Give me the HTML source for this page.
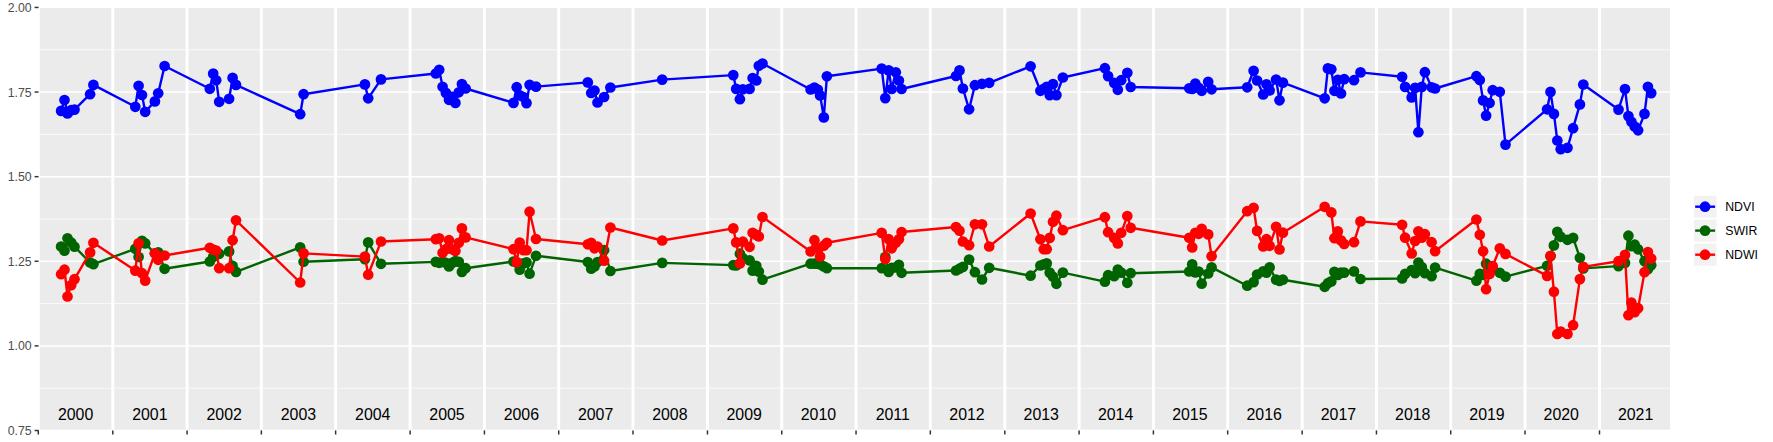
<!DOCTYPE html>
<html><head><meta charset="utf-8"><title>plot</title>
<style>html,body{margin:0;padding:0;background:#fff;}body{width:1773px;height:442px;overflow:hidden;}svg{display:block;}text{font-family:"Liberation Sans",Arial,Helvetica,sans-serif;}</style>
</head><body>
<svg width="1773" height="442" viewBox="0 0 1773 442">
<rect x="0" y="0" width="1773" height="442" fill="#ffffff"/>
<defs><clipPath id="pc"><rect x="39.75" y="8.05" width="1630.25" height="421.60"/></clipPath></defs>
<rect x="39.75" y="8.05" width="1630.25" height="421.60" fill="#EBEBEB"/>
<g clip-path="url(#pc)">
<line x1="39.75" x2="1670.00" y1="388.19" y2="388.19" stroke="#fff" stroke-width="0.74"/>
<line x1="39.75" x2="1670.00" y1="303.59" y2="303.59" stroke="#fff" stroke-width="0.74"/>
<line x1="39.75" x2="1670.00" y1="218.97" y2="218.97" stroke="#fff" stroke-width="0.74"/>
<line x1="39.75" x2="1670.00" y1="134.37" y2="134.37" stroke="#fff" stroke-width="0.74"/>
<line x1="39.75" x2="1670.00" y1="49.75" y2="49.75" stroke="#fff" stroke-width="0.74"/>
<line x1="39.75" x2="1670.00" y1="345.89" y2="345.89" stroke="#fff" stroke-width="1.48"/>
<line x1="39.75" x2="1670.00" y1="261.28" y2="261.28" stroke="#fff" stroke-width="1.48"/>
<line x1="39.75" x2="1670.00" y1="176.67" y2="176.67" stroke="#fff" stroke-width="1.48"/>
<line x1="39.75" x2="1670.00" y1="92.06" y2="92.06" stroke="#fff" stroke-width="1.48"/>
<line x1="38.30" x2="38.30" y1="8.05" y2="429.65" stroke="#fff" stroke-width="2.96"/>
<line x1="112.79" x2="112.79" y1="8.05" y2="429.65" stroke="#fff" stroke-width="2.96"/>
<line x1="187.07" x2="187.07" y1="8.05" y2="429.65" stroke="#fff" stroke-width="2.96"/>
<line x1="261.36" x2="261.36" y1="8.05" y2="429.65" stroke="#fff" stroke-width="2.96"/>
<line x1="335.64" x2="335.64" y1="8.05" y2="429.65" stroke="#fff" stroke-width="2.96"/>
<line x1="410.13" x2="410.13" y1="8.05" y2="429.65" stroke="#fff" stroke-width="2.96"/>
<line x1="484.42" x2="484.42" y1="8.05" y2="429.65" stroke="#fff" stroke-width="2.96"/>
<line x1="558.70" x2="558.70" y1="8.05" y2="429.65" stroke="#fff" stroke-width="2.96"/>
<line x1="632.99" x2="632.99" y1="8.05" y2="429.65" stroke="#fff" stroke-width="2.96"/>
<line x1="707.47" x2="707.47" y1="8.05" y2="429.65" stroke="#fff" stroke-width="2.96"/>
<line x1="781.76" x2="781.76" y1="8.05" y2="429.65" stroke="#fff" stroke-width="2.96"/>
<line x1="856.04" x2="856.04" y1="8.05" y2="429.65" stroke="#fff" stroke-width="2.96"/>
<line x1="930.33" x2="930.33" y1="8.05" y2="429.65" stroke="#fff" stroke-width="2.96"/>
<line x1="1004.82" x2="1004.82" y1="8.05" y2="429.65" stroke="#fff" stroke-width="2.96"/>
<line x1="1079.10" x2="1079.10" y1="8.05" y2="429.65" stroke="#fff" stroke-width="2.96"/>
<line x1="1153.39" x2="1153.39" y1="8.05" y2="429.65" stroke="#fff" stroke-width="2.96"/>
<line x1="1227.67" x2="1227.67" y1="8.05" y2="429.65" stroke="#fff" stroke-width="2.96"/>
<line x1="1302.16" x2="1302.16" y1="8.05" y2="429.65" stroke="#fff" stroke-width="2.96"/>
<line x1="1376.44" x2="1376.44" y1="8.05" y2="429.65" stroke="#fff" stroke-width="2.96"/>
<line x1="1450.73" x2="1450.73" y1="8.05" y2="429.65" stroke="#fff" stroke-width="2.96"/>
<line x1="1525.01" x2="1525.01" y1="8.05" y2="429.65" stroke="#fff" stroke-width="2.96"/>
<line x1="1599.50" x2="1599.50" y1="8.05" y2="429.65" stroke="#fff" stroke-width="2.96"/>
<polyline points="61.1,110.9 64.5,100.0 67.5,113.4 71.2,110.1 74.5,109.6 90.1,94.2 93.4,84.9 135.3,106.8 138.6,85.8 142.0,95.0 145.2,111.8 154.9,101.4 158.2,93.3 164.6,66.0 209.8,88.8 213.2,73.6 216.2,80.3 219.2,101.8 229.1,98.8 232.6,77.9 236.0,84.9 300.2,114.2 303.6,94.2 364.9,84.4 368.2,98.3 381.0,79.4 435.8,73.5 439.2,69.8 442.6,86.8 445.9,92.9 449.0,99.8 452.2,96.8 455.4,102.9 458.8,92.3 461.9,84.1 465.6,88.5 513.5,102.9 516.7,87.2 519.7,95.3 523.4,97.0 526.5,103.1 529.6,84.8 536.0,86.6 587.8,82.4 591.2,93.0 594.5,90.5 597.5,102.5 604.1,97.0 610.4,87.5 662.2,79.6 733.3,75.1 736.2,88.9 739.9,99.2 742.9,89.3 749.6,88.9 752.6,78.0 756.3,80.5 758.8,65.8 762.5,63.5 810.6,89.5 814.4,87.5 817.8,89.5 820.1,95.4 823.8,117.4 826.9,76.3 881.7,68.6 885.3,98.1 888.7,70.4 891.7,89.0 895.8,72.3 898.9,80.5 901.6,89.0 956.0,76.0 959.5,70.4 962.9,88.5 969.1,109.3 974.9,85.2 982.0,83.8 989.2,82.8 1030.6,66.3 1040.4,90.8 1043.8,88.8 1046.7,86.8 1049.7,95.1 1053.0,84.0 1056.4,95.1 1062.9,77.5 1104.9,68.2 1108.1,76.1 1114.2,82.9 1117.8,89.8 1121.2,80.2 1127.3,72.8 1130.7,87.0 1189.2,88.3 1192.2,89.0 1195.3,83.6 1198.7,87.8 1201.7,90.8 1208.2,81.8 1211.6,89.3 1247.2,87.3 1253.6,70.8 1257.1,80.5 1263.2,94.5 1266.5,84.3 1269.6,90.4 1276.1,79.5 1279.5,100.3 1282.9,82.6 1324.7,98.3 1327.9,68.4 1331.3,69.3 1334.4,90.8 1337.8,79.8 1341.0,93.5 1344.2,79.2 1354.0,80.2 1360.5,72.4 1402.1,76.8 1405.1,86.9 1411.7,97.4 1415.1,87.9 1418.4,132.2 1421.8,86.9 1424.9,72.2 1431.6,87.3 1435.1,88.5 1476.4,76.2 1479.8,80.0 1483.1,100.4 1486.1,115.6 1489.6,103.0 1492.7,90.2 1499.8,91.8 1505.5,144.6 1547.1,109.3 1550.5,91.9 1553.9,113.9 1557.3,140.5 1560.7,149.2 1567.5,147.8 1573.1,128.2 1579.9,104.4 1583.3,84.5 1618.5,109.6 1625.0,89.0 1628.4,116.1 1631.4,121.8 1634.7,126.5 1638.1,130.3 1644.5,113.9 1647.9,86.8 1651.2,93.1" fill="none" stroke="#0000FF" stroke-width="2.40" stroke-linejoin="round" stroke-linecap="butt"/>
<g fill="#0000FF"><circle cx="61.1" cy="110.9" r="5.35"/><circle cx="64.5" cy="100.0" r="5.35"/><circle cx="67.5" cy="113.4" r="5.35"/><circle cx="71.2" cy="110.1" r="5.35"/><circle cx="74.5" cy="109.6" r="5.35"/><circle cx="90.1" cy="94.2" r="5.35"/><circle cx="93.4" cy="84.9" r="5.35"/><circle cx="135.3" cy="106.8" r="5.35"/><circle cx="138.6" cy="85.8" r="5.35"/><circle cx="142.0" cy="95.0" r="5.35"/><circle cx="145.2" cy="111.8" r="5.35"/><circle cx="154.9" cy="101.4" r="5.35"/><circle cx="158.2" cy="93.3" r="5.35"/><circle cx="164.6" cy="66.0" r="5.35"/><circle cx="209.8" cy="88.8" r="5.35"/><circle cx="213.2" cy="73.6" r="5.35"/><circle cx="216.2" cy="80.3" r="5.35"/><circle cx="219.2" cy="101.8" r="5.35"/><circle cx="229.1" cy="98.8" r="5.35"/><circle cx="232.6" cy="77.9" r="5.35"/><circle cx="236.0" cy="84.9" r="5.35"/><circle cx="300.2" cy="114.2" r="5.35"/><circle cx="303.6" cy="94.2" r="5.35"/><circle cx="364.9" cy="84.4" r="5.35"/><circle cx="368.2" cy="98.3" r="5.35"/><circle cx="381.0" cy="79.4" r="5.35"/><circle cx="435.8" cy="73.5" r="5.35"/><circle cx="439.2" cy="69.8" r="5.35"/><circle cx="442.6" cy="86.8" r="5.35"/><circle cx="445.9" cy="92.9" r="5.35"/><circle cx="449.0" cy="99.8" r="5.35"/><circle cx="452.2" cy="96.8" r="5.35"/><circle cx="455.4" cy="102.9" r="5.35"/><circle cx="458.8" cy="92.3" r="5.35"/><circle cx="461.9" cy="84.1" r="5.35"/><circle cx="465.6" cy="88.5" r="5.35"/><circle cx="513.5" cy="102.9" r="5.35"/><circle cx="516.7" cy="87.2" r="5.35"/><circle cx="519.7" cy="95.3" r="5.35"/><circle cx="523.4" cy="97.0" r="5.35"/><circle cx="526.5" cy="103.1" r="5.35"/><circle cx="529.6" cy="84.8" r="5.35"/><circle cx="536.0" cy="86.6" r="5.35"/><circle cx="587.8" cy="82.4" r="5.35"/><circle cx="591.2" cy="93.0" r="5.35"/><circle cx="594.5" cy="90.5" r="5.35"/><circle cx="597.5" cy="102.5" r="5.35"/><circle cx="604.1" cy="97.0" r="5.35"/><circle cx="610.4" cy="87.5" r="5.35"/><circle cx="662.2" cy="79.6" r="5.35"/><circle cx="733.3" cy="75.1" r="5.35"/><circle cx="736.2" cy="88.9" r="5.35"/><circle cx="739.9" cy="99.2" r="5.35"/><circle cx="742.9" cy="89.3" r="5.35"/><circle cx="749.6" cy="88.9" r="5.35"/><circle cx="752.6" cy="78.0" r="5.35"/><circle cx="756.3" cy="80.5" r="5.35"/><circle cx="758.8" cy="65.8" r="5.35"/><circle cx="762.5" cy="63.5" r="5.35"/><circle cx="810.6" cy="89.5" r="5.35"/><circle cx="814.4" cy="87.5" r="5.35"/><circle cx="817.8" cy="89.5" r="5.35"/><circle cx="820.1" cy="95.4" r="5.35"/><circle cx="823.8" cy="117.4" r="5.35"/><circle cx="826.9" cy="76.3" r="5.35"/><circle cx="881.7" cy="68.6" r="5.35"/><circle cx="885.3" cy="98.1" r="5.35"/><circle cx="888.7" cy="70.4" r="5.35"/><circle cx="891.7" cy="89.0" r="5.35"/><circle cx="895.8" cy="72.3" r="5.35"/><circle cx="898.9" cy="80.5" r="5.35"/><circle cx="901.6" cy="89.0" r="5.35"/><circle cx="956.0" cy="76.0" r="5.35"/><circle cx="959.5" cy="70.4" r="5.35"/><circle cx="962.9" cy="88.5" r="5.35"/><circle cx="969.1" cy="109.3" r="5.35"/><circle cx="974.9" cy="85.2" r="5.35"/><circle cx="982.0" cy="83.8" r="5.35"/><circle cx="989.2" cy="82.8" r="5.35"/><circle cx="1030.6" cy="66.3" r="5.35"/><circle cx="1040.4" cy="90.8" r="5.35"/><circle cx="1043.8" cy="88.8" r="5.35"/><circle cx="1046.7" cy="86.8" r="5.35"/><circle cx="1049.7" cy="95.1" r="5.35"/><circle cx="1053.0" cy="84.0" r="5.35"/><circle cx="1056.4" cy="95.1" r="5.35"/><circle cx="1062.9" cy="77.5" r="5.35"/><circle cx="1104.9" cy="68.2" r="5.35"/><circle cx="1108.1" cy="76.1" r="5.35"/><circle cx="1114.2" cy="82.9" r="5.35"/><circle cx="1117.8" cy="89.8" r="5.35"/><circle cx="1121.2" cy="80.2" r="5.35"/><circle cx="1127.3" cy="72.8" r="5.35"/><circle cx="1130.7" cy="87.0" r="5.35"/><circle cx="1189.2" cy="88.3" r="5.35"/><circle cx="1192.2" cy="89.0" r="5.35"/><circle cx="1195.3" cy="83.6" r="5.35"/><circle cx="1198.7" cy="87.8" r="5.35"/><circle cx="1201.7" cy="90.8" r="5.35"/><circle cx="1208.2" cy="81.8" r="5.35"/><circle cx="1211.6" cy="89.3" r="5.35"/><circle cx="1247.2" cy="87.3" r="5.35"/><circle cx="1253.6" cy="70.8" r="5.35"/><circle cx="1257.1" cy="80.5" r="5.35"/><circle cx="1263.2" cy="94.5" r="5.35"/><circle cx="1266.5" cy="84.3" r="5.35"/><circle cx="1269.6" cy="90.4" r="5.35"/><circle cx="1276.1" cy="79.5" r="5.35"/><circle cx="1279.5" cy="100.3" r="5.35"/><circle cx="1282.9" cy="82.6" r="5.35"/><circle cx="1324.7" cy="98.3" r="5.35"/><circle cx="1327.9" cy="68.4" r="5.35"/><circle cx="1331.3" cy="69.3" r="5.35"/><circle cx="1334.4" cy="90.8" r="5.35"/><circle cx="1337.8" cy="79.8" r="5.35"/><circle cx="1341.0" cy="93.5" r="5.35"/><circle cx="1344.2" cy="79.2" r="5.35"/><circle cx="1354.0" cy="80.2" r="5.35"/><circle cx="1360.5" cy="72.4" r="5.35"/><circle cx="1402.1" cy="76.8" r="5.35"/><circle cx="1405.1" cy="86.9" r="5.35"/><circle cx="1411.7" cy="97.4" r="5.35"/><circle cx="1415.1" cy="87.9" r="5.35"/><circle cx="1418.4" cy="132.2" r="5.35"/><circle cx="1421.8" cy="86.9" r="5.35"/><circle cx="1424.9" cy="72.2" r="5.35"/><circle cx="1431.6" cy="87.3" r="5.35"/><circle cx="1435.1" cy="88.5" r="5.35"/><circle cx="1476.4" cy="76.2" r="5.35"/><circle cx="1479.8" cy="80.0" r="5.35"/><circle cx="1483.1" cy="100.4" r="5.35"/><circle cx="1486.1" cy="115.6" r="5.35"/><circle cx="1489.6" cy="103.0" r="5.35"/><circle cx="1492.7" cy="90.2" r="5.35"/><circle cx="1499.8" cy="91.8" r="5.35"/><circle cx="1505.5" cy="144.6" r="5.35"/><circle cx="1547.1" cy="109.3" r="5.35"/><circle cx="1550.5" cy="91.9" r="5.35"/><circle cx="1553.9" cy="113.9" r="5.35"/><circle cx="1557.3" cy="140.5" r="5.35"/><circle cx="1560.7" cy="149.2" r="5.35"/><circle cx="1567.5" cy="147.8" r="5.35"/><circle cx="1573.1" cy="128.2" r="5.35"/><circle cx="1579.9" cy="104.4" r="5.35"/><circle cx="1583.3" cy="84.5" r="5.35"/><circle cx="1618.5" cy="109.6" r="5.35"/><circle cx="1625.0" cy="89.0" r="5.35"/><circle cx="1628.4" cy="116.1" r="5.35"/><circle cx="1631.4" cy="121.8" r="5.35"/><circle cx="1634.7" cy="126.5" r="5.35"/><circle cx="1638.1" cy="130.3" r="5.35"/><circle cx="1644.5" cy="113.9" r="5.35"/><circle cx="1647.9" cy="86.8" r="5.35"/><circle cx="1651.2" cy="93.1" r="5.35"/></g>
<polyline points="61.1,246.5 64.5,250.7 67.5,238.3 71.2,242.5 74.5,246.7 90.1,262.5 93.4,264.2 135.3,248.8 138.6,257.0 142.0,240.8 145.2,243.4 154.9,253.3 158.2,252.4 164.6,268.8 209.8,261.5 213.2,256.9 216.2,254.3 219.2,253.8 229.1,251.4 232.6,265.9 236.0,271.9 300.2,247.4 303.6,261.7 364.9,259.2 368.2,242.4 381.0,263.8 435.8,261.9 439.2,262.8 442.6,261.9 445.9,262.8 449.0,266.4 452.2,262.9 455.4,261.0 458.8,261.9 461.9,271.9 465.6,268.2 513.5,261.5 516.7,262.4 519.7,269.6 523.4,263.4 526.5,262.4 529.6,273.7 536.0,255.8 587.8,262.0 591.2,268.7 594.5,266.5 597.5,262.0 604.1,250.2 610.4,271.0 662.2,262.9 733.3,265.1 736.2,265.4 739.9,253.7 742.9,258.4 749.6,260.4 752.6,270.6 756.3,265.9 758.8,271.6 762.5,279.7 810.6,263.7 814.4,263.7 817.8,263.7 820.1,264.4 823.8,266.4 826.9,268.2 881.7,268.2 885.3,257.1 888.7,271.9 891.7,267.9 895.8,267.4 898.9,264.9 901.6,272.8 956.0,270.5 959.5,268.7 962.9,266.9 969.1,259.6 974.9,272.2 982.0,279.5 989.2,267.8 1030.6,275.7 1040.4,265.5 1043.8,264.4 1046.7,263.4 1049.7,272.6 1053.0,276.7 1056.4,283.8 1062.9,272.6 1104.9,281.7 1108.1,275.2 1114.2,276.1 1117.8,269.5 1121.2,272.6 1127.3,282.8 1130.7,273.2 1189.2,271.5 1192.2,264.4 1195.3,272.5 1198.7,271.5 1201.7,283.7 1208.2,273.5 1211.6,267.4 1247.2,285.7 1253.6,282.1 1257.1,274.5 1263.2,271.4 1266.5,272.6 1269.6,267.4 1276.1,279.7 1279.5,280.9 1282.9,279.7 1324.7,286.8 1327.9,283.2 1331.3,281.4 1334.4,271.9 1337.8,275.0 1341.0,272.6 1344.2,272.6 1354.0,271.4 1360.5,279.0 1402.1,278.5 1405.1,273.9 1411.7,270.1 1415.1,273.2 1418.4,262.6 1421.8,267.1 1424.9,273.2 1431.6,276.2 1435.1,267.6 1476.4,280.7 1479.8,273.9 1483.1,274.9 1486.1,263.7 1489.6,266.0 1492.7,268.4 1499.8,272.8 1505.5,276.6 1547.1,265.8 1550.5,256.2 1553.9,245.4 1557.3,231.9 1560.7,236.8 1567.5,239.8 1573.1,237.9 1579.9,257.8 1583.3,268.4 1618.5,266.1 1625.0,262.9 1628.4,235.7 1631.4,246.2 1634.7,244.7 1638.1,249.3 1644.5,261.2 1647.9,269.2 1651.2,265.2" fill="none" stroke="#006400" stroke-width="2.40" stroke-linejoin="round" stroke-linecap="butt"/>
<g fill="#006400"><circle cx="61.1" cy="246.5" r="5.35"/><circle cx="64.5" cy="250.7" r="5.35"/><circle cx="67.5" cy="238.3" r="5.35"/><circle cx="71.2" cy="242.5" r="5.35"/><circle cx="74.5" cy="246.7" r="5.35"/><circle cx="90.1" cy="262.5" r="5.35"/><circle cx="93.4" cy="264.2" r="5.35"/><circle cx="135.3" cy="248.8" r="5.35"/><circle cx="138.6" cy="257.0" r="5.35"/><circle cx="142.0" cy="240.8" r="5.35"/><circle cx="145.2" cy="243.4" r="5.35"/><circle cx="154.9" cy="253.3" r="5.35"/><circle cx="158.2" cy="252.4" r="5.35"/><circle cx="164.6" cy="268.8" r="5.35"/><circle cx="209.8" cy="261.5" r="5.35"/><circle cx="213.2" cy="256.9" r="5.35"/><circle cx="216.2" cy="254.3" r="5.35"/><circle cx="219.2" cy="253.8" r="5.35"/><circle cx="229.1" cy="251.4" r="5.35"/><circle cx="232.6" cy="265.9" r="5.35"/><circle cx="236.0" cy="271.9" r="5.35"/><circle cx="300.2" cy="247.4" r="5.35"/><circle cx="303.6" cy="261.7" r="5.35"/><circle cx="364.9" cy="259.2" r="5.35"/><circle cx="368.2" cy="242.4" r="5.35"/><circle cx="381.0" cy="263.8" r="5.35"/><circle cx="435.8" cy="261.9" r="5.35"/><circle cx="439.2" cy="262.8" r="5.35"/><circle cx="442.6" cy="261.9" r="5.35"/><circle cx="445.9" cy="262.8" r="5.35"/><circle cx="449.0" cy="266.4" r="5.35"/><circle cx="452.2" cy="262.9" r="5.35"/><circle cx="455.4" cy="261.0" r="5.35"/><circle cx="458.8" cy="261.9" r="5.35"/><circle cx="461.9" cy="271.9" r="5.35"/><circle cx="465.6" cy="268.2" r="5.35"/><circle cx="513.5" cy="261.5" r="5.35"/><circle cx="516.7" cy="262.4" r="5.35"/><circle cx="519.7" cy="269.6" r="5.35"/><circle cx="523.4" cy="263.4" r="5.35"/><circle cx="526.5" cy="262.4" r="5.35"/><circle cx="529.6" cy="273.7" r="5.35"/><circle cx="536.0" cy="255.8" r="5.35"/><circle cx="587.8" cy="262.0" r="5.35"/><circle cx="591.2" cy="268.7" r="5.35"/><circle cx="594.5" cy="266.5" r="5.35"/><circle cx="597.5" cy="262.0" r="5.35"/><circle cx="604.1" cy="250.2" r="5.35"/><circle cx="610.4" cy="271.0" r="5.35"/><circle cx="662.2" cy="262.9" r="5.35"/><circle cx="733.3" cy="265.1" r="5.35"/><circle cx="736.2" cy="265.4" r="5.35"/><circle cx="739.9" cy="253.7" r="5.35"/><circle cx="742.9" cy="258.4" r="5.35"/><circle cx="749.6" cy="260.4" r="5.35"/><circle cx="752.6" cy="270.6" r="5.35"/><circle cx="756.3" cy="265.9" r="5.35"/><circle cx="758.8" cy="271.6" r="5.35"/><circle cx="762.5" cy="279.7" r="5.35"/><circle cx="810.6" cy="263.7" r="5.35"/><circle cx="814.4" cy="263.7" r="5.35"/><circle cx="817.8" cy="263.7" r="5.35"/><circle cx="820.1" cy="264.4" r="5.35"/><circle cx="823.8" cy="266.4" r="5.35"/><circle cx="826.9" cy="268.2" r="5.35"/><circle cx="881.7" cy="268.2" r="5.35"/><circle cx="885.3" cy="257.1" r="5.35"/><circle cx="888.7" cy="271.9" r="5.35"/><circle cx="891.7" cy="267.9" r="5.35"/><circle cx="895.8" cy="267.4" r="5.35"/><circle cx="898.9" cy="264.9" r="5.35"/><circle cx="901.6" cy="272.8" r="5.35"/><circle cx="956.0" cy="270.5" r="5.35"/><circle cx="959.5" cy="268.7" r="5.35"/><circle cx="962.9" cy="266.9" r="5.35"/><circle cx="969.1" cy="259.6" r="5.35"/><circle cx="974.9" cy="272.2" r="5.35"/><circle cx="982.0" cy="279.5" r="5.35"/><circle cx="989.2" cy="267.8" r="5.35"/><circle cx="1030.6" cy="275.7" r="5.35"/><circle cx="1040.4" cy="265.5" r="5.35"/><circle cx="1043.8" cy="264.4" r="5.35"/><circle cx="1046.7" cy="263.4" r="5.35"/><circle cx="1049.7" cy="272.6" r="5.35"/><circle cx="1053.0" cy="276.7" r="5.35"/><circle cx="1056.4" cy="283.8" r="5.35"/><circle cx="1062.9" cy="272.6" r="5.35"/><circle cx="1104.9" cy="281.7" r="5.35"/><circle cx="1108.1" cy="275.2" r="5.35"/><circle cx="1114.2" cy="276.1" r="5.35"/><circle cx="1117.8" cy="269.5" r="5.35"/><circle cx="1121.2" cy="272.6" r="5.35"/><circle cx="1127.3" cy="282.8" r="5.35"/><circle cx="1130.7" cy="273.2" r="5.35"/><circle cx="1189.2" cy="271.5" r="5.35"/><circle cx="1192.2" cy="264.4" r="5.35"/><circle cx="1195.3" cy="272.5" r="5.35"/><circle cx="1198.7" cy="271.5" r="5.35"/><circle cx="1201.7" cy="283.7" r="5.35"/><circle cx="1208.2" cy="273.5" r="5.35"/><circle cx="1211.6" cy="267.4" r="5.35"/><circle cx="1247.2" cy="285.7" r="5.35"/><circle cx="1253.6" cy="282.1" r="5.35"/><circle cx="1257.1" cy="274.5" r="5.35"/><circle cx="1263.2" cy="271.4" r="5.35"/><circle cx="1266.5" cy="272.6" r="5.35"/><circle cx="1269.6" cy="267.4" r="5.35"/><circle cx="1276.1" cy="279.7" r="5.35"/><circle cx="1279.5" cy="280.9" r="5.35"/><circle cx="1282.9" cy="279.7" r="5.35"/><circle cx="1324.7" cy="286.8" r="5.35"/><circle cx="1327.9" cy="283.2" r="5.35"/><circle cx="1331.3" cy="281.4" r="5.35"/><circle cx="1334.4" cy="271.9" r="5.35"/><circle cx="1337.8" cy="275.0" r="5.35"/><circle cx="1341.0" cy="272.6" r="5.35"/><circle cx="1344.2" cy="272.6" r="5.35"/><circle cx="1354.0" cy="271.4" r="5.35"/><circle cx="1360.5" cy="279.0" r="5.35"/><circle cx="1402.1" cy="278.5" r="5.35"/><circle cx="1405.1" cy="273.9" r="5.35"/><circle cx="1411.7" cy="270.1" r="5.35"/><circle cx="1415.1" cy="273.2" r="5.35"/><circle cx="1418.4" cy="262.6" r="5.35"/><circle cx="1421.8" cy="267.1" r="5.35"/><circle cx="1424.9" cy="273.2" r="5.35"/><circle cx="1431.6" cy="276.2" r="5.35"/><circle cx="1435.1" cy="267.6" r="5.35"/><circle cx="1476.4" cy="280.7" r="5.35"/><circle cx="1479.8" cy="273.9" r="5.35"/><circle cx="1483.1" cy="274.9" r="5.35"/><circle cx="1486.1" cy="263.7" r="5.35"/><circle cx="1489.6" cy="266.0" r="5.35"/><circle cx="1492.7" cy="268.4" r="5.35"/><circle cx="1499.8" cy="272.8" r="5.35"/><circle cx="1505.5" cy="276.6" r="5.35"/><circle cx="1547.1" cy="265.8" r="5.35"/><circle cx="1550.5" cy="256.2" r="5.35"/><circle cx="1553.9" cy="245.4" r="5.35"/><circle cx="1557.3" cy="231.9" r="5.35"/><circle cx="1560.7" cy="236.8" r="5.35"/><circle cx="1567.5" cy="239.8" r="5.35"/><circle cx="1573.1" cy="237.9" r="5.35"/><circle cx="1579.9" cy="257.8" r="5.35"/><circle cx="1583.3" cy="268.4" r="5.35"/><circle cx="1618.5" cy="266.1" r="5.35"/><circle cx="1625.0" cy="262.9" r="5.35"/><circle cx="1628.4" cy="235.7" r="5.35"/><circle cx="1631.4" cy="246.2" r="5.35"/><circle cx="1634.7" cy="244.7" r="5.35"/><circle cx="1638.1" cy="249.3" r="5.35"/><circle cx="1644.5" cy="261.2" r="5.35"/><circle cx="1647.9" cy="269.2" r="5.35"/><circle cx="1651.2" cy="265.2" r="5.35"/></g>
<polyline points="61.1,274.2 64.5,269.7 67.5,296.5 71.2,285.1 74.5,279.2 90.1,252.4 93.4,242.8 135.3,270.6 138.6,243.4 142.0,273.2 145.2,280.6 154.9,253.3 158.2,259.8 164.6,255.5 209.8,247.8 213.2,249.7 216.2,250.5 219.2,268.2 229.1,268.2 232.6,240.2 236.0,220.3 300.2,282.5 303.6,253.4 364.9,256.6 368.2,274.7 381.0,241.5 435.8,239.2 439.2,238.3 442.6,252.8 445.9,249.2 449.0,240.2 452.2,249.3 455.4,251.0 458.8,242.8 461.9,228.4 465.6,237.4 513.5,249.2 516.7,262.1 519.7,242.5 523.4,250.2 526.5,250.2 529.6,211.7 536.0,239.0 587.8,244.3 591.2,242.9 594.5,248.3 597.5,246.5 604.1,260.7 610.4,227.5 662.2,240.5 733.3,228.4 736.2,242.4 739.9,263.4 742.9,241.7 749.6,246.8 752.6,232.8 756.3,234.9 758.8,236.5 762.5,217.0 810.6,251.5 814.4,240.2 817.8,248.3 820.1,256.5 823.8,245.7 826.9,242.8 881.7,232.9 885.3,258.9 888.7,239.2 891.7,248.3 895.8,242.8 898.9,239.2 901.6,232.0 956.0,227.0 959.5,230.7 962.9,241.5 969.1,245.2 974.9,224.3 982.0,224.3 989.2,246.5 1030.6,213.5 1040.4,239.3 1043.8,249.2 1046.7,249.2 1049.7,237.9 1053.0,221.8 1056.4,215.7 1062.9,230.2 1104.9,217.2 1108.1,232.2 1114.2,237.9 1117.8,243.4 1121.2,232.8 1127.3,216.0 1130.7,227.8 1189.2,237.8 1192.2,247.4 1195.3,232.8 1198.7,233.8 1201.7,228.8 1208.2,234.4 1211.6,256.2 1247.2,211.2 1253.6,207.8 1257.1,230.9 1263.2,246.4 1266.5,239.2 1269.6,245.8 1276.1,226.8 1279.5,249.5 1282.9,232.7 1324.7,206.8 1331.3,212.4 1334.4,238.2 1337.8,231.4 1341.0,240.4 1344.2,244.0 1354.0,242.2 1360.5,221.4 1402.1,224.8 1405.1,237.7 1411.7,253.5 1415.1,241.0 1418.4,231.3 1421.8,237.7 1424.9,234.2 1431.6,242.2 1435.1,251.2 1476.4,219.5 1479.8,234.8 1483.1,251.2 1486.1,289.2 1489.6,273.9 1492.7,266.0 1499.8,248.3 1505.5,253.9 1547.1,275.9 1550.5,255.8 1553.9,291.7 1557.3,334.0 1560.7,331.6 1567.5,334.0 1573.1,325.2 1579.9,279.1 1583.3,266.9 1618.5,261.2 1625.0,254.9 1628.4,315.2 1631.4,302.6 1634.7,312.1 1638.1,308.2 1644.5,272.2 1647.9,252.0 1651.2,258.5" fill="none" stroke="#FF0000" stroke-width="2.40" stroke-linejoin="round" stroke-linecap="butt"/>
<g fill="#FF0000"><circle cx="61.1" cy="274.2" r="5.35"/><circle cx="64.5" cy="269.7" r="5.35"/><circle cx="67.5" cy="296.5" r="5.35"/><circle cx="71.2" cy="285.1" r="5.35"/><circle cx="74.5" cy="279.2" r="5.35"/><circle cx="90.1" cy="252.4" r="5.35"/><circle cx="93.4" cy="242.8" r="5.35"/><circle cx="135.3" cy="270.6" r="5.35"/><circle cx="138.6" cy="243.4" r="5.35"/><circle cx="142.0" cy="273.2" r="5.35"/><circle cx="145.2" cy="280.6" r="5.35"/><circle cx="154.9" cy="253.3" r="5.35"/><circle cx="158.2" cy="259.8" r="5.35"/><circle cx="164.6" cy="255.5" r="5.35"/><circle cx="209.8" cy="247.8" r="5.35"/><circle cx="213.2" cy="249.7" r="5.35"/><circle cx="216.2" cy="250.5" r="5.35"/><circle cx="219.2" cy="268.2" r="5.35"/><circle cx="229.1" cy="268.2" r="5.35"/><circle cx="232.6" cy="240.2" r="5.35"/><circle cx="236.0" cy="220.3" r="5.35"/><circle cx="300.2" cy="282.5" r="5.35"/><circle cx="303.6" cy="253.4" r="5.35"/><circle cx="364.9" cy="256.6" r="5.35"/><circle cx="368.2" cy="274.7" r="5.35"/><circle cx="381.0" cy="241.5" r="5.35"/><circle cx="435.8" cy="239.2" r="5.35"/><circle cx="439.2" cy="238.3" r="5.35"/><circle cx="442.6" cy="252.8" r="5.35"/><circle cx="445.9" cy="249.2" r="5.35"/><circle cx="449.0" cy="240.2" r="5.35"/><circle cx="452.2" cy="249.3" r="5.35"/><circle cx="455.4" cy="251.0" r="5.35"/><circle cx="458.8" cy="242.8" r="5.35"/><circle cx="461.9" cy="228.4" r="5.35"/><circle cx="465.6" cy="237.4" r="5.35"/><circle cx="513.5" cy="249.2" r="5.35"/><circle cx="516.7" cy="262.1" r="5.35"/><circle cx="519.7" cy="242.5" r="5.35"/><circle cx="523.4" cy="250.2" r="5.35"/><circle cx="526.5" cy="250.2" r="5.35"/><circle cx="529.6" cy="211.7" r="5.35"/><circle cx="536.0" cy="239.0" r="5.35"/><circle cx="587.8" cy="244.3" r="5.35"/><circle cx="591.2" cy="242.9" r="5.35"/><circle cx="594.5" cy="248.3" r="5.35"/><circle cx="597.5" cy="246.5" r="5.35"/><circle cx="604.1" cy="260.7" r="5.35"/><circle cx="610.4" cy="227.5" r="5.35"/><circle cx="662.2" cy="240.5" r="5.35"/><circle cx="733.3" cy="228.4" r="5.35"/><circle cx="736.2" cy="242.4" r="5.35"/><circle cx="739.9" cy="263.4" r="5.35"/><circle cx="742.9" cy="241.7" r="5.35"/><circle cx="749.6" cy="246.8" r="5.35"/><circle cx="752.6" cy="232.8" r="5.35"/><circle cx="756.3" cy="234.9" r="5.35"/><circle cx="758.8" cy="236.5" r="5.35"/><circle cx="762.5" cy="217.0" r="5.35"/><circle cx="810.6" cy="251.5" r="5.35"/><circle cx="814.4" cy="240.2" r="5.35"/><circle cx="817.8" cy="248.3" r="5.35"/><circle cx="820.1" cy="256.5" r="5.35"/><circle cx="823.8" cy="245.7" r="5.35"/><circle cx="826.9" cy="242.8" r="5.35"/><circle cx="881.7" cy="232.9" r="5.35"/><circle cx="885.3" cy="258.9" r="5.35"/><circle cx="888.7" cy="239.2" r="5.35"/><circle cx="891.7" cy="248.3" r="5.35"/><circle cx="895.8" cy="242.8" r="5.35"/><circle cx="898.9" cy="239.2" r="5.35"/><circle cx="901.6" cy="232.0" r="5.35"/><circle cx="956.0" cy="227.0" r="5.35"/><circle cx="959.5" cy="230.7" r="5.35"/><circle cx="962.9" cy="241.5" r="5.35"/><circle cx="969.1" cy="245.2" r="5.35"/><circle cx="974.9" cy="224.3" r="5.35"/><circle cx="982.0" cy="224.3" r="5.35"/><circle cx="989.2" cy="246.5" r="5.35"/><circle cx="1030.6" cy="213.5" r="5.35"/><circle cx="1040.4" cy="239.3" r="5.35"/><circle cx="1043.8" cy="249.2" r="5.35"/><circle cx="1046.7" cy="249.2" r="5.35"/><circle cx="1049.7" cy="237.9" r="5.35"/><circle cx="1053.0" cy="221.8" r="5.35"/><circle cx="1056.4" cy="215.7" r="5.35"/><circle cx="1062.9" cy="230.2" r="5.35"/><circle cx="1104.9" cy="217.2" r="5.35"/><circle cx="1108.1" cy="232.2" r="5.35"/><circle cx="1114.2" cy="237.9" r="5.35"/><circle cx="1117.8" cy="243.4" r="5.35"/><circle cx="1121.2" cy="232.8" r="5.35"/><circle cx="1127.3" cy="216.0" r="5.35"/><circle cx="1130.7" cy="227.8" r="5.35"/><circle cx="1189.2" cy="237.8" r="5.35"/><circle cx="1192.2" cy="247.4" r="5.35"/><circle cx="1195.3" cy="232.8" r="5.35"/><circle cx="1198.7" cy="233.8" r="5.35"/><circle cx="1201.7" cy="228.8" r="5.35"/><circle cx="1208.2" cy="234.4" r="5.35"/><circle cx="1211.6" cy="256.2" r="5.35"/><circle cx="1247.2" cy="211.2" r="5.35"/><circle cx="1253.6" cy="207.8" r="5.35"/><circle cx="1257.1" cy="230.9" r="5.35"/><circle cx="1263.2" cy="246.4" r="5.35"/><circle cx="1266.5" cy="239.2" r="5.35"/><circle cx="1269.6" cy="245.8" r="5.35"/><circle cx="1276.1" cy="226.8" r="5.35"/><circle cx="1279.5" cy="249.5" r="5.35"/><circle cx="1282.9" cy="232.7" r="5.35"/><circle cx="1324.7" cy="206.8" r="5.35"/><circle cx="1331.3" cy="212.4" r="5.35"/><circle cx="1334.4" cy="238.2" r="5.35"/><circle cx="1337.8" cy="231.4" r="5.35"/><circle cx="1341.0" cy="240.4" r="5.35"/><circle cx="1344.2" cy="244.0" r="5.35"/><circle cx="1354.0" cy="242.2" r="5.35"/><circle cx="1360.5" cy="221.4" r="5.35"/><circle cx="1402.1" cy="224.8" r="5.35"/><circle cx="1405.1" cy="237.7" r="5.35"/><circle cx="1411.7" cy="253.5" r="5.35"/><circle cx="1415.1" cy="241.0" r="5.35"/><circle cx="1418.4" cy="231.3" r="5.35"/><circle cx="1421.8" cy="237.7" r="5.35"/><circle cx="1424.9" cy="234.2" r="5.35"/><circle cx="1431.6" cy="242.2" r="5.35"/><circle cx="1435.1" cy="251.2" r="5.35"/><circle cx="1476.4" cy="219.5" r="5.35"/><circle cx="1479.8" cy="234.8" r="5.35"/><circle cx="1483.1" cy="251.2" r="5.35"/><circle cx="1486.1" cy="289.2" r="5.35"/><circle cx="1489.6" cy="273.9" r="5.35"/><circle cx="1492.7" cy="266.0" r="5.35"/><circle cx="1499.8" cy="248.3" r="5.35"/><circle cx="1505.5" cy="253.9" r="5.35"/><circle cx="1547.1" cy="275.9" r="5.35"/><circle cx="1550.5" cy="255.8" r="5.35"/><circle cx="1553.9" cy="291.7" r="5.35"/><circle cx="1557.3" cy="334.0" r="5.35"/><circle cx="1560.7" cy="331.6" r="5.35"/><circle cx="1567.5" cy="334.0" r="5.35"/><circle cx="1573.1" cy="325.2" r="5.35"/><circle cx="1579.9" cy="279.1" r="5.35"/><circle cx="1583.3" cy="266.9" r="5.35"/><circle cx="1618.5" cy="261.2" r="5.35"/><circle cx="1625.0" cy="254.9" r="5.35"/><circle cx="1628.4" cy="315.2" r="5.35"/><circle cx="1631.4" cy="302.6" r="5.35"/><circle cx="1634.7" cy="312.1" r="5.35"/><circle cx="1638.1" cy="308.2" r="5.35"/><circle cx="1644.5" cy="272.2" r="5.35"/><circle cx="1647.9" cy="252.0" r="5.35"/><circle cx="1651.2" cy="258.5" r="5.35"/></g>
<text x="75.60" y="419.80" font-size="15.9" text-anchor="middle" fill="#000">2000</text>
<text x="149.88" y="419.80" font-size="15.9" text-anchor="middle" fill="#000">2001</text>
<text x="224.17" y="419.80" font-size="15.9" text-anchor="middle" fill="#000">2002</text>
<text x="298.45" y="419.80" font-size="15.9" text-anchor="middle" fill="#000">2003</text>
<text x="372.74" y="419.80" font-size="15.9" text-anchor="middle" fill="#000">2004</text>
<text x="447.02" y="419.80" font-size="15.9" text-anchor="middle" fill="#000">2005</text>
<text x="521.31" y="419.80" font-size="15.9" text-anchor="middle" fill="#000">2006</text>
<text x="595.60" y="419.80" font-size="15.9" text-anchor="middle" fill="#000">2007</text>
<text x="669.88" y="419.80" font-size="15.9" text-anchor="middle" fill="#000">2008</text>
<text x="744.16" y="419.80" font-size="15.9" text-anchor="middle" fill="#000">2009</text>
<text x="818.45" y="419.80" font-size="15.9" text-anchor="middle" fill="#000">2010</text>
<text x="892.74" y="419.80" font-size="15.9" text-anchor="middle" fill="#000">2011</text>
<text x="967.02" y="419.80" font-size="15.9" text-anchor="middle" fill="#000">2012</text>
<text x="1041.30" y="419.80" font-size="15.9" text-anchor="middle" fill="#000">2013</text>
<text x="1115.59" y="419.80" font-size="15.9" text-anchor="middle" fill="#000">2014</text>
<text x="1189.87" y="419.80" font-size="15.9" text-anchor="middle" fill="#000">2015</text>
<text x="1264.16" y="419.80" font-size="15.9" text-anchor="middle" fill="#000">2016</text>
<text x="1338.44" y="419.80" font-size="15.9" text-anchor="middle" fill="#000">2017</text>
<text x="1412.73" y="419.80" font-size="15.9" text-anchor="middle" fill="#000">2018</text>
<text x="1487.01" y="419.80" font-size="15.9" text-anchor="middle" fill="#000">2019</text>
<text x="1561.30" y="419.80" font-size="15.9" text-anchor="middle" fill="#000">2020</text>
<text x="1635.58" y="419.80" font-size="15.9" text-anchor="middle" fill="#000">2021</text>
</g>
<line x1="34.6" x2="38.5" y1="430.50" y2="430.50" stroke="#333" stroke-width="1.48"/>
<text x="31.7" y="435.10" font-size="12.3" text-anchor="end" fill="#4D4D4D">0.75</text>
<line x1="34.6" x2="38.5" y1="345.89" y2="345.89" stroke="#333" stroke-width="1.48"/>
<text x="31.7" y="350.49" font-size="12.3" text-anchor="end" fill="#4D4D4D">1.00</text>
<line x1="34.6" x2="38.5" y1="261.28" y2="261.28" stroke="#333" stroke-width="1.48"/>
<text x="31.7" y="265.88" font-size="12.3" text-anchor="end" fill="#4D4D4D">1.25</text>
<line x1="34.6" x2="38.5" y1="176.67" y2="176.67" stroke="#333" stroke-width="1.48"/>
<text x="31.7" y="181.27" font-size="12.3" text-anchor="end" fill="#4D4D4D">1.50</text>
<line x1="34.6" x2="38.5" y1="92.06" y2="92.06" stroke="#333" stroke-width="1.48"/>
<text x="31.7" y="96.66" font-size="12.3" text-anchor="end" fill="#4D4D4D">1.75</text>
<line x1="34.6" x2="38.5" y1="7.45" y2="7.45" stroke="#333" stroke-width="1.48"/>
<text x="31.7" y="12.05" font-size="12.3" text-anchor="end" fill="#4D4D4D">2.00</text>
<line x1="38.30" x2="38.30" y1="430.4" y2="434.5" stroke="#333" stroke-width="1.48"/>
<line x1="112.79" x2="112.79" y1="430.4" y2="434.5" stroke="#333" stroke-width="1.48"/>
<line x1="187.07" x2="187.07" y1="430.4" y2="434.5" stroke="#333" stroke-width="1.48"/>
<line x1="261.36" x2="261.36" y1="430.4" y2="434.5" stroke="#333" stroke-width="1.48"/>
<line x1="335.64" x2="335.64" y1="430.4" y2="434.5" stroke="#333" stroke-width="1.48"/>
<line x1="410.13" x2="410.13" y1="430.4" y2="434.5" stroke="#333" stroke-width="1.48"/>
<line x1="484.42" x2="484.42" y1="430.4" y2="434.5" stroke="#333" stroke-width="1.48"/>
<line x1="558.70" x2="558.70" y1="430.4" y2="434.5" stroke="#333" stroke-width="1.48"/>
<line x1="632.99" x2="632.99" y1="430.4" y2="434.5" stroke="#333" stroke-width="1.48"/>
<line x1="707.47" x2="707.47" y1="430.4" y2="434.5" stroke="#333" stroke-width="1.48"/>
<line x1="781.76" x2="781.76" y1="430.4" y2="434.5" stroke="#333" stroke-width="1.48"/>
<line x1="856.04" x2="856.04" y1="430.4" y2="434.5" stroke="#333" stroke-width="1.48"/>
<line x1="930.33" x2="930.33" y1="430.4" y2="434.5" stroke="#333" stroke-width="1.48"/>
<line x1="1004.82" x2="1004.82" y1="430.4" y2="434.5" stroke="#333" stroke-width="1.48"/>
<line x1="1079.10" x2="1079.10" y1="430.4" y2="434.5" stroke="#333" stroke-width="1.48"/>
<line x1="1153.39" x2="1153.39" y1="430.4" y2="434.5" stroke="#333" stroke-width="1.48"/>
<line x1="1227.67" x2="1227.67" y1="430.4" y2="434.5" stroke="#333" stroke-width="1.48"/>
<line x1="1302.16" x2="1302.16" y1="430.4" y2="434.5" stroke="#333" stroke-width="1.48"/>
<line x1="1376.44" x2="1376.44" y1="430.4" y2="434.5" stroke="#333" stroke-width="1.48"/>
<line x1="1450.73" x2="1450.73" y1="430.4" y2="434.5" stroke="#333" stroke-width="1.48"/>
<line x1="1525.01" x2="1525.01" y1="430.4" y2="434.5" stroke="#333" stroke-width="1.48"/>
<line x1="1599.50" x2="1599.50" y1="430.4" y2="434.5" stroke="#333" stroke-width="1.48"/>
<rect x="1693.9" y="195.70" width="22.6" height="22" fill="#F2F2F2"/>
<line x1="1695.2" x2="1715.1" y1="206.70" y2="206.70" stroke="#0000FF" stroke-width="2.40"/>
<circle cx="1705.05" cy="206.70" r="5.35" fill="#0000FF"/>
<text x="1725.2" y="210.90" font-size="12.3" fill="#000">NDVI</text>
<rect x="1693.9" y="219.60" width="22.6" height="22" fill="#F2F2F2"/>
<line x1="1695.2" x2="1715.1" y1="230.60" y2="230.60" stroke="#006400" stroke-width="2.40"/>
<circle cx="1705.05" cy="230.60" r="5.35" fill="#006400"/>
<text x="1725.2" y="234.80" font-size="12.3" fill="#000">SWIR</text>
<rect x="1693.9" y="243.70" width="22.6" height="22" fill="#F2F2F2"/>
<line x1="1695.2" x2="1715.1" y1="254.70" y2="254.70" stroke="#FF0000" stroke-width="2.40"/>
<circle cx="1705.05" cy="254.70" r="5.35" fill="#FF0000"/>
<text x="1725.2" y="258.90" font-size="12.3" fill="#000">NDWI</text>
</svg></body></html>
